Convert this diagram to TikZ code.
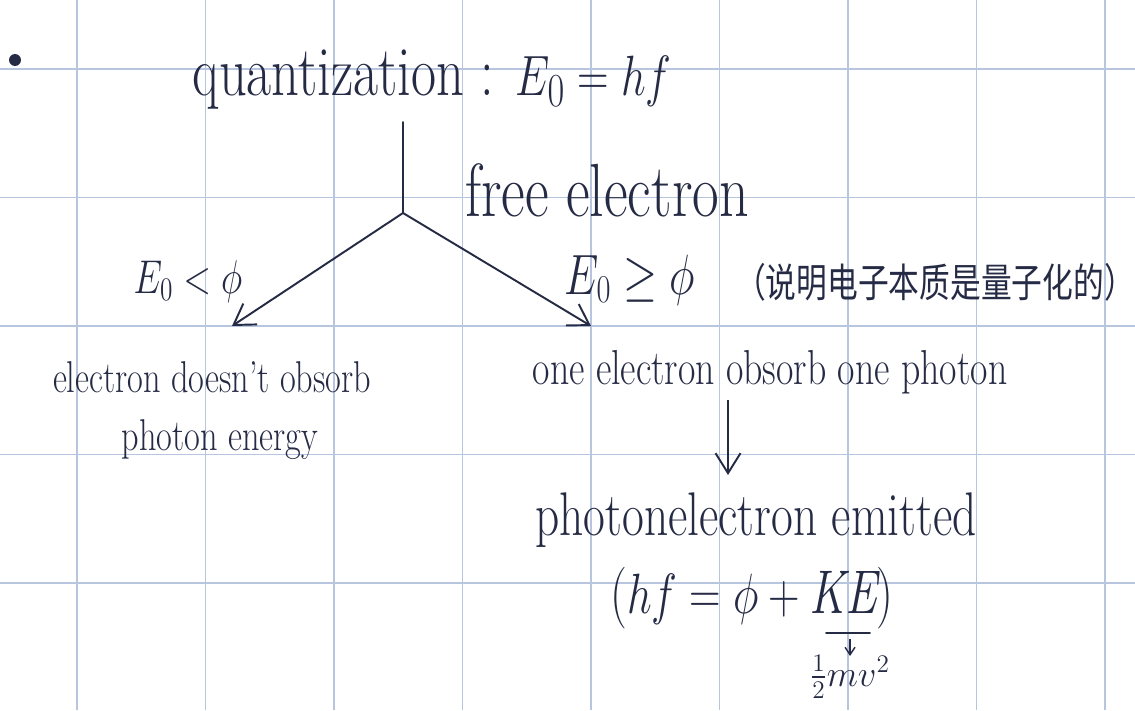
\documentclass[tikz,border=0pt]{standalone}
\usepackage{fontspec}
\newfontfamily\cjk{Noto Sans CJK SC}
\usepackage{amssymb}
\usepackage{xcolor}
\usepackage{graphicx}
\usetikzlibrary{arrows.meta}
\definecolor{ink}{HTML}{262B45}
\definecolor{gridblue}{HTML}{B7C5DE}
\newcommand{\tallink}[1]{\scalebox{1}[1.3]{#1}}

\begin{document}
\begin{tikzpicture}[
    x=0.02cm, y=-0.02cm,
    %% ── Styles ──────────────────────────────────────────────────
    gridline/.style={draw=gridblue, line width=0.8pt},
    hand/.style    ={text=ink, inner sep=0pt, anchor=center},
    title/.style   ={hand, font=\fontsize{31}{33}\selectfont},
    head/.style    ={hand, font=\fontsize{33}{35}\selectfont},
    cond/.style    ={hand, font=\fontsize{22}{24}\selectfont},
    note/.style    ={hand, font=\fontsize{19.5}{21}\selectfont},
    stepnote/.style={hand, font=\fontsize{21.5}{23}\selectfont},
    result/.style  ={hand, font=\fontsize{27}{29}\selectfont},
    cjknote/.style ={hand, font=\fontsize{17.5}{19}\selectfont\cjk},
    arr/.style     ={-{Straight Barb[length=4mm, width=5mm]}, draw=ink, line width=1.1pt},
    pen/.style     ={draw=ink, line width=1.1pt, line cap=round}
]

    %% ── Paper and grid ──────────────────────────────────────────
    \useasboundingbox (0,0) rectangle (1135,710);
    \fill[white] (0,0) rectangle (1135,710);
    \foreach \gx in {77,205.5,...,1106}
        \draw[gridline] (\gx,0) -- (\gx,710);
    \foreach \gy in {69,197.5,...,710}
        \draw[gridline] (0,\gy) -- (1135,\gy);

    %% ── Nodes ──────────────────────────────────────────────────
    \fill[ink] (15,60) circle (6);
    \node[title]    (quant)  at (432, 80)  {\tallink{quantization : $E_0=hf$}};
    \node[head]     (free)   at (607, 190) {\tallink{free electron}};
    \node[cond]     (low)    at (188, 282) {\tallink{$E_0<\phi$}};
    \node[cond, font=\fontsize{25}{27}\selectfont]
                    (high)   at (630, 280) {\tallink{$E_0\geq\phi$}};
    \node[cjknote]  (remark) at (935, 282) {\tallink{（说明电子本质是量子化的）}};
    \node[note]     (noabs)  at (212, 377) {\tallink{electron doesn't obsorb}};
    \node[note]     (noabsb) at (220, 440) {\tallink{photon energy}};
    \node[stepnote] (abs)    at (770, 372) {\tallink{one electron obsorb one photon}};
    \node[result]   (emit)   at (756, 520) {\tallink{photonelectron emitted}};
    \node[result]   (eqn)    at (752, 598) {\tallink{($hf=\phi+\mathit{KE}$)}};
    \node[note]     (kin)    at (850, 677) {$\frac{1}{2}mv^2$};

    %% ── Connectors ──────────────────────────────────────────────
    \coordinate (stem)     at (403, 122);
    \coordinate (fork)     at (403, 213);
    \coordinate (lefttip)  at (232, 326);
    \coordinate (righttip) at (591, 326);
    \coordinate (downtop)  at (728, 400);
    \coordinate (downtip)  at (728, 475);
    \coordinate (ketop)    at (850, 639);
    \coordinate (ketip)    at (850, 656);

    \draw[pen] (stem) -- (fork);
    \draw[arr] (fork) -- (lefttip);
    \draw[arr] (fork) -- (righttip);
    \draw[arr] (downtop) -- (downtip);
    \draw[pen] (826, 633) -- (870, 633);
    \draw[-{Straight Barb[length=1.5mm, width=2mm]}, draw=ink, line width=0.8pt] (ketop) -- (ketip);

\end{tikzpicture}
\end{document}
